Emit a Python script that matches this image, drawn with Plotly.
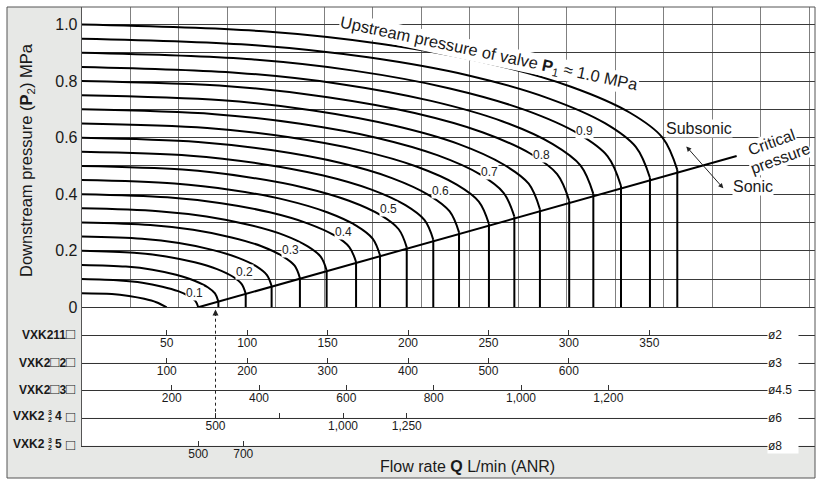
import plotly.graph_objects as go

W, H = 816, 481
FONT = "Liberation Sans, Arial, Helvetica, sans-serif"

# upstream pressure P1 (MPa) of each curve
p1_values = [0.05, 0.10, 0.15, 0.20, 0.25, 0.30, 0.35, 0.40, 0.45, 0.50,
             0.55, 0.60, 0.65, 0.70, 0.75, 0.80, 0.85, 0.90, 0.95, 1.00]

# flow rate (L/min ANR on the VXK211 / ø2 scale)
curve_q = [
    [-3, 15.9, 26.5, 36.0, 43.5, 50.0],
    [-3, 20.9, 34.8, 47.3, 57.1, 64.0, 67.9, 69.6],
    [-3, 24.6, 41.1, 55.8, 67.3, 75.5, 80.0, 82.1],
    [-3, 29.7, 49.6, 67.4, 81.3, 91.2, 96.6, 99.1],
    [-3, 34.6, 57.6, 78.3, 94.5, 106.0, 112.3, 115.2],
    [-3, 39.8, 66.4, 90.3, 108.9, 122.2, 129.5, 132.8],
    [-3, 44.8, 74.7, 101.6, 122.5, 137.4, 145.7, 149.4],
    [-3, 50.3, 83.9, 114.0, 137.5, 154.3, 163.5, 167.7],
    [-3, 54.8, 91.3, 124.2, 149.7, 168.0, 178.0, 182.6],
    [-3, 59.8, 99.6, 135.5, 163.3, 183.3, 194.2, 199.2],
    [-3, 64.7, 107.9, 146.7, 176.9, 198.4, 210.3, 215.7],
    [-3, 69.5, 115.9, 157.6, 190.0, 213.2, 225.9, 231.7],
    [-3, 75.1, 125.2, 170.2, 205.2, 230.3, 244.0, 250.3],
    [-3, 79.8, 133.1, 180.9, 218.2, 244.8, 259.4, 266.1],
    [-3, 84.6, 141.0, 191.8, 231.2, 259.4, 275.0, 282.0],
    [-3, 90.1, 150.1, 204.1, 246.2, 276.2, 292.7, 300.2],
    [-3, 94.6, 157.6, 214.3, 258.5, 290.0, 307.3, 315.2],
    [-3, 99.7, 166.2, 226.0, 272.6, 305.8, 324.1, 332.4],
    [-3, 105.1, 175.2, 238.3, 287.3, 322.4, 341.6, 350.4],
    [-3, 110.2, 183.7, 249.8, 301.3, 338.0, 358.2, 367.4],
]
# downstream pressure P2 (MPa) at those flow rates
curve_p = [
    [0.05, 0.047, 0.040, 0.030, 0.018, 0.0],
    [0.10, 0.095, 0.087, 0.073, 0.057, 0.039, 0.022, 0.0],
    [0.15, 0.144, 0.133, 0.115, 0.094, 0.071, 0.049, 0.020],
    [0.20, 0.193, 0.180, 0.159, 0.135, 0.108, 0.082, 0.048],
    [0.25, 0.242, 0.227, 0.203, 0.175, 0.144, 0.114, 0.075],
    [0.30, 0.291, 0.274, 0.247, 0.216, 0.180, 0.147, 0.103],
    [0.35, 0.340, 0.321, 0.291, 0.256, 0.216, 0.179, 0.130],
    [0.40, 0.389, 0.368, 0.336, 0.297, 0.254, 0.213, 0.160],
    [0.45, 0.438, 0.414, 0.379, 0.336, 0.288, 0.243, 0.184],
    [0.50, 0.487, 0.461, 0.423, 0.377, 0.325, 0.276, 0.212],
    [0.55, 0.536, 0.508, 0.467, 0.417, 0.361, 0.308, 0.239],
    [0.60, 0.585, 0.555, 0.511, 0.457, 0.396, 0.339, 0.265],
    [0.65, 0.634, 0.602, 0.555, 0.498, 0.434, 0.374, 0.295],
    [0.70, 0.683, 0.649, 0.599, 0.538, 0.470, 0.405, 0.321],
    [0.75, 0.732, 0.696, 0.642, 0.578, 0.505, 0.437, 0.347],
    [0.80, 0.781, 0.743, 0.687, 0.619, 0.543, 0.471, 0.377],
    [0.85, 0.829, 0.790, 0.730, 0.658, 0.577, 0.501, 0.401],
    [0.90, 0.878, 0.837, 0.774, 0.698, 0.614, 0.534, 0.429],
    [0.95, 0.927, 0.884, 0.819, 0.739, 0.651, 0.567, 0.458],
    [1.00, 0.976, 0.931, 0.863, 0.780, 0.688, 0.600, 0.486],
]

# critical pressure line
crit_q = [69.6, 404.3]
crit_p = [0.0, 0.535]

# curve labels
label_text = ["0.1", "0.2", "0.3", "0.4", "0.5", "0.6", "0.7", "0.8", "0.9"]
label_q = [67.1, 98.2, 127.1, 159.8, 187.7, 219.9, 250.9, 283.1, 309.6]
label_p = [0.050, 0.124, 0.203, 0.267, 0.347, 0.412, 0.479, 0.539, 0.623]

# flow rate scales for each valve model
BOX = "<span style='font-size:15px'>□</span>"
scale_names = ["VXK211" + BOX, "VXK2" + BOX + "2" + BOX, "VXK2" + BOX + "3" + BOX,
               None, None]
scale_last = ["4", "5"]
scale_orifice = ["ø2", "ø3", "ø4.5", "ø6", "ø8"]
scale_ticks = [
    [50, 100, 150, 200, 250, 300, 350],
    [100, 200, 300, 400, 500, 600],
    [200, 400, 600, 800, 1000, 1200],
    [500, 750, 1000, 1250],
    [500, 700],
]
scale_ticktext = [
    ["50", "100", "150", "200", "250", "300", "350"],
    ["100", "200", "300", "400", "500", "600"],
    ["200", "400", "600", "800", "1,000", "1,200"],
    ["500", "", "1,000", "1,250"],
    ["500", "700"],
]
scale_range = [[-2.86, 453.0], [-5.72, 906.0], [-6.18, 1673.4],
               [-24.7, 2851.0], [-18.2, 3241.0]]

y_ticks = [0, 0.1, 0.2, 0.3, 0.4, 0.5, 0.6, 0.7, 0.8, 0.9, 1.0]
y_ticktext = ["0", "", "0.2", "", "0.4", "", "0.6", "", "0.8", "", "1.0"]


def fx(px):
    return px / W


def fy(py):
    return 1 - py / H


def note(px, py, text, size=16, **kw):
    """text placed at a pixel position of the page"""
    d = dict(xref="paper", yref="paper", x=fx(px), y=fy(py), text=text,
             xanchor="center", yanchor="middle", showarrow=False,
             font=dict(size=size, color="#1a1a1a"))
    d.update(kw)
    return d


X0, X1 = 81.7, 815
Y_TOP, Y_ZERO = 7, 307.3
row_lines = [335, 362.7, 390, 417.7, 445.7]
row_tops = [Y_ZERO] + row_lines[:-1]

fig = go.Figure()

# pressure curves
for q, p in zip(curve_q, curve_p):
    fig.add_trace(go.Scatter(
        x=q, y=p, mode="lines",
        line=dict(color="black", width=2, shape="spline", smoothing=1),
        hoverinfo="skip", showlegend=False))

# sonic (vertical) part of each curve
vq, vp = [], []
for q, p in zip(curve_q, curve_p):
    if p[-1] > 0:
        vq += [q[-1], q[-1], None]
        vp += [p[-1], 0, None]
fig.add_trace(go.Scatter(x=vq, y=vp, mode="lines",
                         line=dict(color="black", width=2),
                         hoverinfo="skip", showlegend=False))

# critical pressure line
fig.add_trace(go.Scatter(x=crit_q, y=crit_p, mode="lines",
                         line=dict(color="black", width=2),
                         hoverinfo="skip", showlegend=False))

layout = dict(
    width=W, height=490,
    margin=dict(l=0, r=0, t=0, b=0),
    paper_bgcolor="#e7e8e6",
    plot_bgcolor="white",
    showlegend=False,
    font=dict(family=FONT, color="#1a1a1a"),
    xaxis=dict(domain=[fx(X0), fx(X1)], range=scale_range[0], anchor="y",
               tick0=-2.86, dtick=30.15, showticklabels=False, ticks="",
               showgrid=True, gridcolor="#808080", gridwidth=1,
               zeroline=False, showline=True, linecolor="#333", linewidth=1,
               fixedrange=True),
    yaxis=dict(domain=[fy(Y_ZERO), fy(Y_TOP)], range=[0, 1.062], anchor="x",
               tickvals=y_ticks, ticktext=y_ticktext, ticks="",
               tickfont=dict(size=16, color="#1a1a1a"),
               showgrid=True, gridcolor="#3a3a3a", gridwidth=1,
               zeroline=False, showline=True, linecolor="#555", linewidth=1,
               fixedrange=True),
)

annotations = []
shapes = []

# scale rows
for i in range(5):
    n = i + 2
    xa, ya = "x%d" % n, "y%d" % n
    layout["xaxis%d" % n] = dict(
        domain=[fx(X0), fx(X1)], range=scale_range[i], anchor=ya,
        tickvals=scale_ticks[i], ticktext=scale_ticktext[i],
        ticks="inside", ticklen=5, tickwidth=1, tickcolor="#333",
        ticklabelstandoff=-3,
        tickfont=dict(size=12, color="#1a1a1a"),
        showgrid=False, zeroline=False, showline=True,
        linecolor="#333", linewidth=1, fixedrange=True)
    layout["yaxis%d" % n] = dict(
        domain=[fy(row_lines[i]), fy(row_tops[i])], range=[0, 1], anchor=xa,
        showticklabels=False, ticks="", showgrid=False, zeroline=False,
        showline=True, linecolor="#555", linewidth=1, fixedrange=True)
    fig.add_trace(go.Scatter(x=[scale_ticks[i][0]], y=[0.5], xaxis=xa, yaxis=ya,
                             mode="markers", marker=dict(opacity=0),
                             hoverinfo="skip", showlegend=False))
    # orifice label breaking the scale line
    annotations.append(note(766.7, row_lines[i], scale_orifice[i], size=12,
                            xanchor="left", bgcolor="white", width=30,
                            align="left", borderpad=0))
    # model name
    ly = row_lines[i] - 1.5
    if scale_names[i]:
        annotations.append(note(77, ly, "<b>%s</b>" % scale_names[i], size=12,
                                xanchor="right"))
    else:
        annotations += [
            note(46.5, ly, "<b>VXK2</b>", size=12, xanchor="right"),
            note(49.8, row_lines[i] - 5.5, "<b>3</b>", size=7),
            note(49.8, row_lines[i] + 1.5, "<b>2</b>", size=7),
            note(53, ly, "<b>%s</b>" % scale_last[i - 3], size=12, xanchor="left"),
            note(77, ly, "<b>%s</b>" % BOX, size=12, xanchor="right"),
        ]

# curve labels
for t, q, p in zip(label_text, label_q, label_p):
    annotations.append(dict(x=q, y=p, xref="x", yref="y", text=t,
                            xanchor="center", yanchor="middle",
                            showarrow=False, bgcolor="white", borderpad=0,
                            font=dict(size=12, color="#222")))

# text annotations
annotations += [
    note(489, 54, "Upstream pressure of valve <b>P</b><sub>1</sub> ≈ 1.0 MPa",
         size=16.5, textangle=12, bgcolor="white", borderpad=0),
    note(699, 128.5, "Subsonic", bgcolor="white", borderpad=0),
    note(753, 186.5, "Sonic", bgcolor="white", borderpad=0),
    note(771, 142, "Critical", textangle=-20, bgcolor="white", borderpad=0),
    note(780, 158, "pressure", textangle=-20, bgcolor="white", borderpad=0),
    # axis titles
    note(27, 160, "Downstream pressure (<b>P</b><sub>2</sub>) MPa", size=16.5,
         textangle=-90),
    note(468, 466, "Flow rate <b>Q</b> L/min (ANR)"),
    # subsonic / sonic arrow
    dict(xref="paper", yref="paper", x=fx(723.3), y=fy(188.3), ax=-38.3, ay=-43.3,
         text="", showarrow=True, arrowside="end+start", arrowhead=2,
         arrowsize=1, arrowwidth=1, arrowcolor="#222"),
    # arrow head of the dashed pointer
    dict(xref="x5", yref="paper", x=500, y=fy(309.5), ax=0, ay=8, text="",
         showarrow=True, arrowhead=2, arrowsize=1, arrowwidth=1.2,
         arrowcolor="#222"),
]

# dashed pointer from the VXK2 3/2 4 scale
shapes.append(dict(type="line", xref="x5", yref="paper", x0=500, x1=500,
                   y0=fy(row_lines[3]), y1=fy(316),
                   line=dict(color="#222", width=1, dash="3px,3px")))

# white outside the frame, then the frame itself
for (a, b, c, d) in [(0, 0, W, Y_TOP), (0, 0, 7, H), (0, 478, W, H), (X1, 0, W, H)]:
    shapes.append(dict(type="rect", xref="paper", yref="paper",
                       x0=fx(a), x1=fx(c), y0=fy(b), y1=fy(d),
                       fillcolor="white", line=dict(width=0), layer="below"))
shapes.append(dict(type="rect", xref="paper", yref="paper",
                   x0=fx(7), x1=fx(X1), y0=fy(7), y1=fy(478),
                   line=dict(color="#555", width=1), layer="above"))

layout["annotations"] = annotations
layout["shapes"] = shapes
fig.update_layout(**layout)

page_fix = ("document.body.style.margin='0';"
            "document.documentElement.style.overflow='hidden';")
fig.write_html("out.html", config={"displayModeBar": False}, post_script=page_fix)
